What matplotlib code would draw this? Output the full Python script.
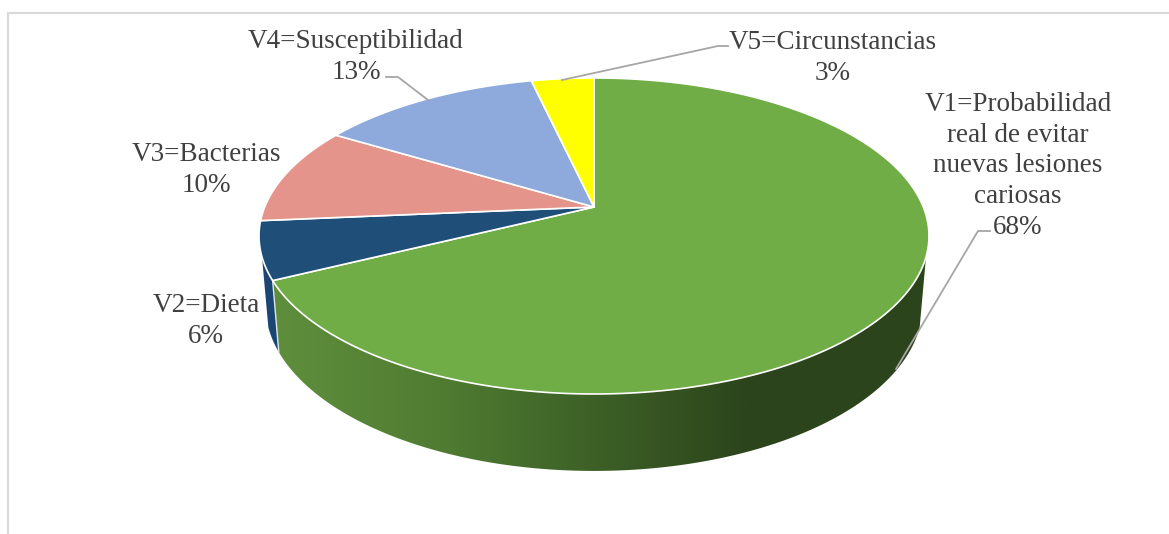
import matplotlib
matplotlib.use("Agg")
import matplotlib.pyplot as plt
from matplotlib.patches import PathPatch
from matplotlib.path import Path
import numpy as np

plt.rcParams['font.family'] = ['Liberation Serif', 'DejaVu Serif']

# slice sizes, the labels show the printed percentages
names = ['V1=Probabilidad\nreal de evitar\nnuevas lesiones\ncariosas', 'V2=Dieta', 'V3=Bacterias',
         'V4=Susceptibilidad', 'V5=Circunstancias']
values = [67.7, 5.9, 10.0, 12.8, 3.6]
percents = [68, 6, 10, 13, 3]
colors = ['#70ad47', '#1f4e79', '#e5948c', '#8ea9db', '#ffff00']
label_x = [1018, 206, 206, 356, 833]
label_y = [166, 321, 170, 57, 58]

# shading of the green side wall, left to right
shade_x = [280, 440, 600, 750]
shade_r = [94, 80, 60, 44]
shade_g = [142, 124, 95, 68]
shade_b = [60, 50, 38, 28]

# pie geometry in pixels, the perspective comes from k
cx, k = 594, 0.1834
top_cy, top_rx, top_ry = 207, 329.3, 152.7
bot_cy, bot_rx, bot_ry = 275, 323, 160
# angles where the wall's outline leaves the rims
wall_right, wall_left = 108, 252


def project(t, cy, rx, ry):
    # t is degrees clockwise from 12 o'clock
    u, v = np.sin(np.radians(t)), np.cos(np.radians(t))
    w = 1 + k * v
    return cx + rx * u / w, cy - ry * v / w


def wall_path(t_start, t_end):
    ts = np.linspace(t_start, t_end, 300)
    xt, yt = project(ts, top_cy, top_rx, top_ry)
    xb, yb = project(ts[::-1], bot_cy, bot_rx, bot_ry)
    pts = np.column_stack([np.concatenate([xt, xb, xt[:1]]), np.concatenate([yt, yb, yt[:1]])])
    return Path(pts, closed=True)


fig = plt.figure(figsize=(11.69, 5.34), dpi=100)
ax = fig.add_axes([0, 0, 1, 1])
ax.set_xlim(0, 1169)
ax.set_ylim(534, 0)
ax.axis('off')

# chart frame
ax.plot([8, 8, 1169], [534, 12.5, 12.5], color='#d9d9d9', lw=1.5)

edges = np.concatenate([[0], np.cumsum(values)]) * 3.6

# side wall, only the two front slices show
ax.add_patch(PathPatch(wall_path(edges[1], wall_left), facecolor='#1b4673', edgecolor='none', zorder=2))

grad_x = np.arange(250, 940)
grad = np.stack([np.interp(grad_x, shade_x, shade_r),
                 np.interp(grad_x, shade_x, shade_g),
                 np.interp(grad_x, shade_x, shade_b)], axis=-1)[None, :, :] / 255
green_wall = PathPatch(wall_path(wall_right, edges[1]), facecolor='none', edgecolor='none', transform=ax.transData)
im = ax.imshow(grad, extent=(250, 940, 480, 240), aspect='auto', zorder=2.5, interpolation='bilinear')
im.set_clip_path(green_wall)
ax.set_xlim(0, 1169)
ax.set_ylim(534, 0)

# seam between the green and blue walls
xa, ya = project(edges[1], top_cy, top_rx, top_ry)
xb, yb = project(edges[1], bot_cy, bot_rx, bot_ry)
ax.plot([xa, xb], [ya, yb], color='#dfe6ea', lw=1, zorder=3)

# top face
for i in range(len(values)):
    ts = np.linspace(edges[i], edges[i + 1], 200)
    xs, ys = project(ts, top_cy, top_rx, top_ry)
    xs = np.concatenate([[cx], xs])
    ys = np.concatenate([[top_cy], ys])
    ax.fill(xs, ys, facecolor=colors[i], edgecolor='white', lw=1.2, joinstyle='round', zorder=4)

# leader lines
ax.plot([990, 978, 896], [231, 231, 369], color='#a6a6a6', lw=1.3, zorder=5)
ax.plot([386, 398, 428], [77, 77, 100], color='#a6a6a6', lw=1.3, zorder=5)
ax.plot([728, 718, 562], [46, 46, 80], color='#a6a6a6', lw=1.3, zorder=5)

for name, pct, lx, ly in zip(names, percents, label_x, label_y):
    ax.text(lx, ly, '%s\n%d%%' % (name, pct), ha='center', va='center', fontsize=19.5,
            color='#404040', linespacing=1.31, zorder=6)

fig.savefig('out.png', dpi=100, facecolor='white')
